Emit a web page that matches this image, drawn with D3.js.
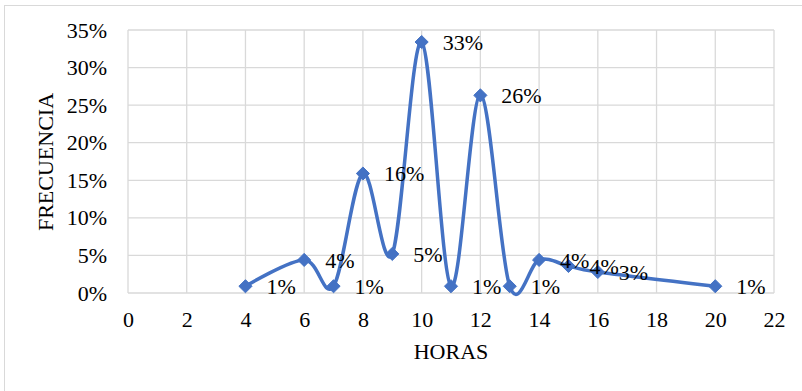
<!DOCTYPE html>
<html><head><meta charset="utf-8">
<script src="https://cdn.jsdelivr.net/npm/d3@7"></script>
<style>body{margin:0;background:#fff}svg{display:block}</style>
</head><body>
<script>
const horas = [4, 6, 7, 8, 9, 10, 11, 12, 13, 14, 15, 16, 20];
const frecuencia = [0.009, 0.044, 0.009, 0.159, 0.052, 0.334, 0.009, 0.263, 0.009, 0.044, 0.036, 0.028, 0.009];
const etiquetas = ["1%", "4%", "1%", "16%", "5%", "33%", "1%", "26%", "1%", "4%", "4%", "3%", "1%"];
const xTicks = [0, 2, 4, 6, 8, 10, 12, 14, 16, 18, 20, 22];
const yTicks = [0, 0.05, 0.10, 0.15, 0.20, 0.25, 0.30, 0.35];

const W = 802, H = 391;
const m = {left: 128, right: 774, top: 30, bottom: 293};
const font = "'Liberation Serif','Times New Roman',serif";
const col = "#4472C4";

const svg = d3.select("body").append("svg").attr("width", W).attr("height", H);
svg.append("rect").attr("x", 4.5).attr("y", 5.5).attr("width", W + 10).attr("height", H + 10)
  .attr("fill", "#fff").attr("stroke", "#d9d9d9").attr("stroke-width", 1);

const x = d3.scaleLinear().domain([0, 22]).range([m.left, m.right]);
const y = d3.scaleLinear().domain([0, 0.35]).range([m.bottom, m.top]);

// gridlines
const g = svg.append("g");
g.selectAll(".vg").data(xTicks).join("line")
  .attr("x1", d => x(d)).attr("x2", d => x(d)).attr("y1", m.top).attr("y2", m.bottom)
  .attr("stroke", "#d9d9d9").attr("stroke-width", 1.3);
g.selectAll(".hg").data(yTicks).join("line")
  .attr("x1", m.left).attr("x2", m.right).attr("y1", d => y(d)).attr("y2", d => y(d))
  .attr("stroke", "#d9d9d9").attr("stroke-width", 1.3);

// axes
const xAxis = svg.append("g").attr("transform", `translate(0,${m.bottom})`)
  .call(d3.axisBottom(x).tickValues(xTicks).tickSize(0).tickPadding(22));
const yAxis = svg.append("g").attr("transform", `translate(${m.left},0)`)
  .call(d3.axisLeft(y).tickValues(yTicks).tickFormat(d3.format(".0%")).tickSize(0).tickPadding(21));
[xAxis, yAxis].forEach(a => {
  a.select(".domain").remove();
  a.selectAll("text").attr("font-family", font).attr("font-size", 22).attr("fill", "#000");
});
xAxis.selectAll("text").attr("dy", "0.55em");

// line
const pts = horas.map((h, i) => [h, frecuencia[i]]);
const line = d3.line().x(d => x(d[0])).y(d => y(d[1])).curve(d3.curveCardinal.tension(0));
svg.append("path").attr("d", line(pts)).attr("fill", "none")
  .attr("stroke", col).attr("stroke-width", 3.5).attr("stroke-linejoin", "round");

// markers
const sym = d3.symbol().type(d3.symbolDiamond2).size(110);
svg.selectAll(".mk").data(pts).join("path")
  .attr("d", sym).attr("transform", d => `translate(${x(d[0])},${y(d[1])}) scale(1.0,1.0)`)
  .attr("fill", col).attr("stroke", col).attr("stroke-width", 1);

// labels
svg.selectAll(".lb").data(pts).join("text")
  .attr("x", d => x(d[0]) + 21).attr("y", d => y(d[1]))
  .attr("dy", "0.35em")
  .attr("font-family", font).attr("font-size", 22).attr("fill", "#000")
  .text((d, i) => etiquetas[i]);

// axis titles
svg.append("text").attr("x", (m.left + m.right) / 2).attr("y", 359)
  .attr("text-anchor", "middle").attr("font-family", font).attr("font-size", 22).text("HORAS");
svg.append("text").attr("transform", "translate(53,162) rotate(-90)")
  .attr("text-anchor", "middle").attr("font-family", font).attr("font-size", 22).text("FRECUENCIA");
</script>
</body></html>
